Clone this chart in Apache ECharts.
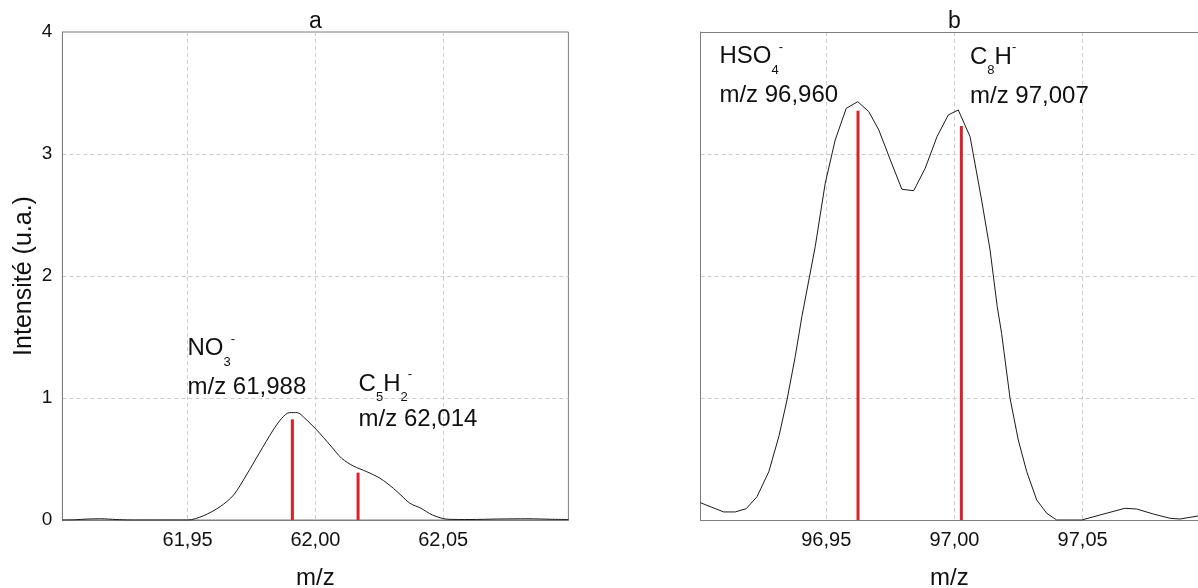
<!DOCTYPE html>
<html>
<head>
<meta charset="utf-8">
<script src="https://cdn.jsdelivr.net/npm/echarts@6/dist/echarts.min.js"></script>
<style>
html,body{margin:0;padding:0;background:#fff;}
#chart{width:1198px;height:588px;}
</style>
</head>
<body>
<div id="chart"></div>
<script>
// ---- data ----
const xTicksA = [61.95, 62.00, 62.05];
const xTicksB = [96.95, 97.00, 97.05];
const yLabels = [0, 1, 2, 3, 4];
const yGrid = [1, 2, 3];

const spectrumA_mz = [61.901,61.906,61.911,61.916,61.922,61.928,61.935,61.942,61.950,61.956,61.9627,61.968,61.973,61.978,61.9835,61.9868,61.9898,61.9929,61.9959,62.0005,62.0057,62.0103,62.0148,62.0201,62.0253,62.0305,62.0339,62.037,62.0413,62.0458,62.0518,62.0605,62.0713,62.0832,62.092,62.099];
const spectrumA_int = [0.000,0.002,0.008,0.010,0.004,0.000,0.000,0.000,0.000,0.033,0.109,0.205,0.369,0.547,0.738,0.833,0.880,0.880,0.833,0.738,0.615,0.505,0.443,0.396,0.342,0.260,0.195,0.137,0.096,0.041,0.006,0.004,0.008,0.010,0.006,0.004];

const spectrumB_mz = [96.9009,96.9054,96.9100,96.9145,96.9188,96.9230,96.9276,96.9315,96.9347,96.9379,96.9405,96.9457,96.9496,96.9535,96.9578,96.9623,96.9666,96.9705,96.9750,96.9795,96.9841,96.9886,96.9932,96.9976,97.0015,97.0061,97.0106,97.0139,97.0167,97.0184,97.0217,97.0249,97.0282,97.0321,97.0360,97.0399,97.0496,97.0568,97.0665,97.0711,97.0776,97.0841,97.0880,97.0950,97.0990];
const spectrumB_int = [0.142,0.104,0.066,0.066,0.093,0.191,0.396,0.683,0.984,1.339,1.667,2.240,2.760,3.115,3.374,3.429,3.347,3.197,2.951,2.711,2.699,2.883,3.142,3.320,3.361,3.142,2.623,2.213,1.749,1.530,0.997,0.656,0.396,0.164,0.055,0.000,0.000,0.041,0.096,0.090,0.049,0.014,0.008,0.033,0.050];

const sticksA_mz = [61.991, 62.0167];
const sticksA_int = [0.825, 0.388];
const sticksB_mz = [96.9624, 97.0027];
const sticksB_int = [3.355, 3.230];

const panelTitles = ['a', 'b'];
const xAxisName = 'm/z';
const yAxisName = 'Intensité (u.a.)';

// ---- chart ----
const FONT = '"Liberation Sans", Arial, sans-serif';
const TXT = '#111';
const FRAME = '#7d7d7d';
const GRIDC = '#cdcdcd';
const RED = '#d8232a';

const zip = (a, b) => a.map((v, i) => [v, b[i]]);
const fmtX = v => v.toFixed(2).replace('.', ',');

function xAxisCfg(idx, min, max, ticks) {
  return {
    gridIndex: idx, type: 'value', min: min, max: max,
    axisLine: {show: true, onZero: false, lineStyle: {color: FRAME, width: 1}},
    axisTick: {show: false, customValues: ticks},
    axisLabel: {customValues: ticks, formatter: fmtX, fontSize: 20, color: TXT, fontFamily: FONT, margin: 10},
    splitLine: {show: true, lineStyle: {color: GRIDC, type: [4, 3], width: 1}},
    name: xAxisName, nameLocation: 'middle', nameGap: 46,
    nameTextStyle: {fontSize: 24, color: TXT, fontFamily: FONT}
  };
}
function topFrameAxis(idx, min, max) {
  return {
    gridIndex: idx, type: 'value', position: 'top', min: min, max: max,
    axisLine: {show: true, onZero: false, lineStyle: {color: FRAME, width: 1}},
    axisTick: {show: false}, axisLabel: {show: false}, splitLine: {show: false}
  };
}
function yAxisCfg(idx, showLabels) {
  return {
    gridIndex: idx, type: 'value', min: 0, max: 4,
    axisLine: {show: true, lineStyle: {color: FRAME, width: 1}},
    axisTick: {show: false, customValues: yGrid},
    axisLabel: {show: showLabels, customValues: yLabels, fontSize: 19, color: TXT, fontFamily: FONT, margin: 10},
    splitLine: {show: true, lineStyle: {color: GRIDC, type: [4, 3], width: 1}},
    name: showLabels ? yAxisName : '', nameLocation: 'middle', nameGap: 26, nameRotate: 90,
    nameTextStyle: {fontSize: 25, color: TXT, fontFamily: FONT}
  };
}

function chemText(x, y, text) {
  return {
    type: 'text', x: x, y: y, z: 100,
    style: {
      text: text, font: '24px ' + FONT, fill: TXT,
      textAlign: 'left', textVerticalAlign: 'middle',
      rich: {
        sub: {font: '13px ' + FONT, fill: TXT, lineHeight: 13, padding: [27, 0, 0, 0]},
        sup: {font: '13px ' + FONT, fill: TXT, lineHeight: 13, padding: [0, 0, 19, 0]}
      }
    }
  };
}
function plainText(x, y, text, align, size) {
  return {
    type: 'text', x: x, y: y, z: 100,
    style: {text: text, font: (size || 24) + 'px ' + FONT, fill: TXT,
      textAlign: align || 'left', textVerticalAlign: 'middle'}
  };
}

const chart = echarts.init(document.getElementById('chart'), null, {renderer: 'canvas'});
const option = {
  animation: false,
  backgroundColor: '#fff',
  grid: [
    {left: 62.4, top: 32, width: 506, height: 488, show: true, borderColor: FRAME, borderWidth: 1,
     backgroundColor: 'transparent', containLabel: false, outerBoundsMode: 'none'},
    {left: 700.6, top: 32, right: 0, height: 488, show: false, containLabel: false, outerBoundsMode: 'none'}
  ],
  xAxis: [
    xAxisCfg(0, 61.901, 62.099, xTicksA),
    xAxisCfg(1, 96.901, 97.095, xTicksB),
    topFrameAxis(1, 96.901, 97.095)
  ],
  yAxis: [yAxisCfg(0, true), yAxisCfg(1, false)],
  series: [
    {type: 'line', xAxisIndex: 0, yAxisIndex: 0, data: zip(spectrumA_mz, spectrumA_int),
     showSymbol: false, smooth: 0.3, lineStyle: {color: '#1a1a1a', width: 1}, z: 3},
    {type: 'line', xAxisIndex: 1, yAxisIndex: 1, data: zip(spectrumB_mz, spectrumB_int),
     showSymbol: false, smooth: false, lineStyle: {color: '#1a1a1a', width: 1}, z: 3},
    {type: 'bar', xAxisIndex: 0, yAxisIndex: 0, data: zip(sticksA_mz, sticksA_int),
     barWidth: 3, itemStyle: {color: RED}, z: 4},
    {type: 'bar', xAxisIndex: 1, yAxisIndex: 1, data: zip(sticksB_mz, sticksB_int),
     barWidth: 3, itemStyle: {color: RED}, z: 4}
  ],
  graphic: [
    plainText(315.3, 22, panelTitles[0], 'center', 23),
    plainText(954.4, 22, panelTitles[1], 'center', 23),
    chemText(187.5, 348.7, 'NO{sub|3}{sup|-}'),
    plainText(187.5, 387.5, 'm/z 61,988'),
    chemText(358.6, 384, 'C{sub|5}H{sub|2}{sup|-}'),
    plainText(358.6, 419, 'm/z 62,014'),
    chemText(719.4, 56.7, 'HSO{sub|4}{sup|-}'),
    plainText(719.4, 95, 'm/z 96,960'),
    chemText(970, 57, 'C{sub|8}H{sup|-}'),
    plainText(970, 96.7, 'm/z 97,007')
  ]
};
chart.setOption(option);
</script>
</body>
</html>
